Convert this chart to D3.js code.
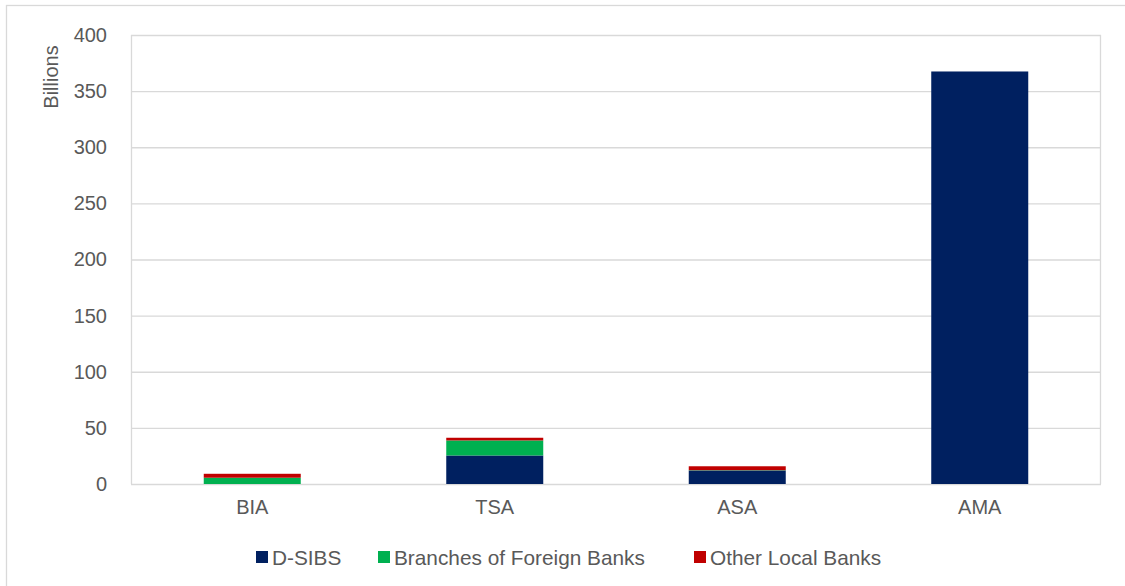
<!DOCTYPE html>
<html>
<head>
<meta charset="utf-8">
<script src="https://cdn.jsdelivr.net/npm/d3@7"></script>
<style>
  body { margin: 0; background: #fff; }
  text { font-family: "Liberation Sans", Arial, sans-serif; fill: #595959; }
</style>
</head>
<body>
<svg id="chart" width="1125" height="586"></svg>
<script>
// data (billions)
const categories = ["BIA", "TSA", "ASA", "AMA"];
const seriesNames = ["D-SIBS", "Branches of Foreign Banks", "Other Local Banks"];
const dsibs   = [0, 25.4, 12, 367.5];
const foreign = [5.6, 13.4, 0.3, 0];
const other   = [3.5, 2.4, 3.5, 0];
const yTicks  = [0, 50, 100, 150, 200, 250, 300, 350, 400];
const colors  = ["#002060", "#00B050", "#C00000"];

const svg = d3.select("#chart");
const margin = {left: 131, right: 1101, top: 35, bottom: 484};

// outer chart border
svg.append("rect")
    .attr("x", 6.5).attr("y", 5.5)
    .attr("width", 1130).attr("height", 600)
    .attr("fill", "none").attr("stroke", "#d9d9d9").attr("stroke-width", 1.3);

const x = d3.scaleBand().domain(categories)
    .range([margin.left, margin.right])
    .paddingInner(0.6).paddingOuter(0.3);
const y = d3.scaleLinear().domain([0, 400]).range([margin.bottom, margin.top]);

// gridlines
svg.append("g").selectAll("line").data(yTicks).join("line")
    .attr("x1", margin.left).attr("x2", margin.right)
    .attr("y1", d => y(d) + 0.5).attr("y2", d => y(d) + 0.5)
    .attr("stroke", "#d9d9d9").attr("stroke-width", 1.3);

// plot area sides
svg.append("line").attr("x1", margin.left + 0.5).attr("x2", margin.left + 0.5)
    .attr("y1", margin.top).attr("y2", margin.bottom)
    .attr("stroke", "#d9d9d9").attr("stroke-width", 1.3);
svg.append("line").attr("x1", margin.right - 0.5).attr("x2", margin.right - 0.5)
    .attr("y1", margin.top).attr("y2", margin.bottom)
    .attr("stroke", "#d9d9d9").attr("stroke-width", 1.3);

// stacked bars
const rows = categories.map((c, i) => ({cat: c, "D-SIBS": dsibs[i], "Branches of Foreign Banks": foreign[i], "Other Local Banks": other[i]}));
const stack = d3.stack().keys(seriesNames)(rows);

svg.append("g").selectAll("g").data(stack).join("g")
    .attr("fill", (d, i) => colors[i])
    .selectAll("rect").data(d => d).join("rect")
    .attr("x", d => x(d.data.cat))
    .attr("width", x.bandwidth())
    .attr("y", d => y(d[1]))
    .attr("height", d => y(d[0]) - y(d[1]));

// y axis labels
const yAxis = d3.axisLeft(y).tickValues(yTicks).tickSize(0).tickPadding(24);
svg.append("g").attr("transform", `translate(${margin.left},0)`).call(yAxis)
    .call(g => g.select(".domain").remove())
    .selectAll("text").style("font-size", "20px").attr("fill", "#595959");

// x axis labels
const xAxis = d3.axisBottom(x).tickSize(0).tickPadding(16);
svg.append("g").attr("transform", `translate(0,${margin.bottom})`).call(xAxis)
    .call(g => g.select(".domain").remove())
    .selectAll("text").style("font-size", "20px").attr("fill", "#595959");

// y title
svg.append("text")
    .attr("transform", "translate(58,77) rotate(-90)")
    .attr("text-anchor", "middle")
    .style("font-size", "20px")
    .text("Billions");

// legend
const legendX = [256, 378, 694];
const legend = svg.append("g").selectAll("g").data(seriesNames).join("g")
    .attr("transform", (d, i) => `translate(${legendX[i]},551)`);
legend.append("rect").attr("width", 12).attr("height", 12)
    .attr("fill", (d, i) => colors[i]);
legend.append("text").attr("x", 16).attr("y", 14)
    .style("font-size", "20.8px").text(d => d);
</script>
</body>
</html>
